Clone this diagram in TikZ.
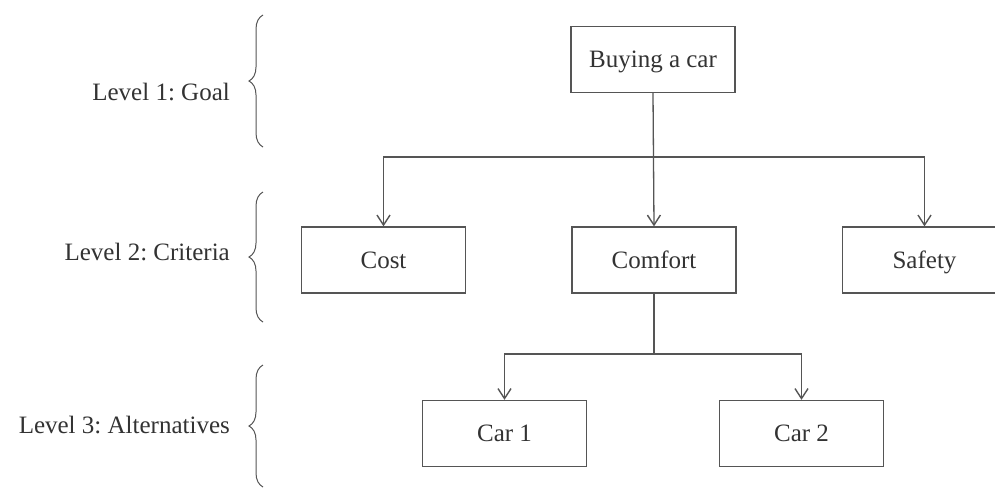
\documentclass[tikz,border=0pt]{standalone}
\usepackage{fontspec}
\setmainfont{Liberation Serif}
\usetikzlibrary{arrows.meta,decorations.pathreplacing}
\definecolor{ink}{HTML}{333333}
\definecolor{edge}{HTML}{555555}
\frenchspacing
\tikzset{
  box/.style={draw=edge,line width=1.3pt,rectangle,minimum width=164pt,minimum height=66pt,inner sep=0pt,text height=18pt,text depth=2pt,text=ink,font=\fontsize{25}{29}\selectfont},
  conn/.style={draw=edge,line width=1.3pt},
  arr/.style={conn,-{Straight Barb[length=10pt,width=13pt,line width=1.4pt]}},
  lvl/.style={anchor=east,text=ink,font=\fontsize{25}{29}\selectfont,inner sep=0pt},
  brc/.style={draw=edge,line width=1pt,decorate,decoration={brace,amplitude=14pt,aspect=0.5}}
}
\begin{document}
\begin{tikzpicture}[x=1pt,y=-1pt]
\clip (0,0) rectangle (995,491);
\fill[white] (0,0) rectangle (995,491);
% nodes
\node[box] (goal) at (653,59.5) {Buying a car};
\node[box] (cost) at (383.5,260) {Cost};
\node[box] (comfort) at (654,260) {Comfort};
\node[box] (safety) at (924.5,260) {Safety};
\node[box] (car1) at (504.5,433.5) {Car 1};
\node[box] (car2) at (801.5,433.5) {Car 2};
% level labels
\node[lvl] (l1) at (230,92) {Level 1: Goal};
\node[lvl] (l2) at (230,252) {Level 2: Criteria};
\node[lvl] (l3) at (230,425) {Level 3: Alternatives};
% braces
\coordinate (b1a) at (263,147); \coordinate (b1b) at (263,15);
\coordinate (b2a) at (263,322); \coordinate (b2b) at (263,192);
\coordinate (b3a) at (263,487); \coordinate (b3b) at (263,365);
\draw[brc] (b1a) -- (b1b);
\draw[brc] (b2a) -- (b2b);
\draw[brc] (b3a) -- (b3b);
% connectors
\coordinate (j1) at (654,157);
\coordinate (j2) at (654,354);
\draw[arr] (goal.south) -- (comfort.north);
\draw[arr] (j1) -| (cost.north);
\draw[arr] (j1) -| (safety.north);
\draw[conn] (comfort.south) -- (j2);
\draw[arr] (j2) -| (car1.north);
\draw[arr] (j2) -| (car2.north);
\end{tikzpicture}
\end{document}
